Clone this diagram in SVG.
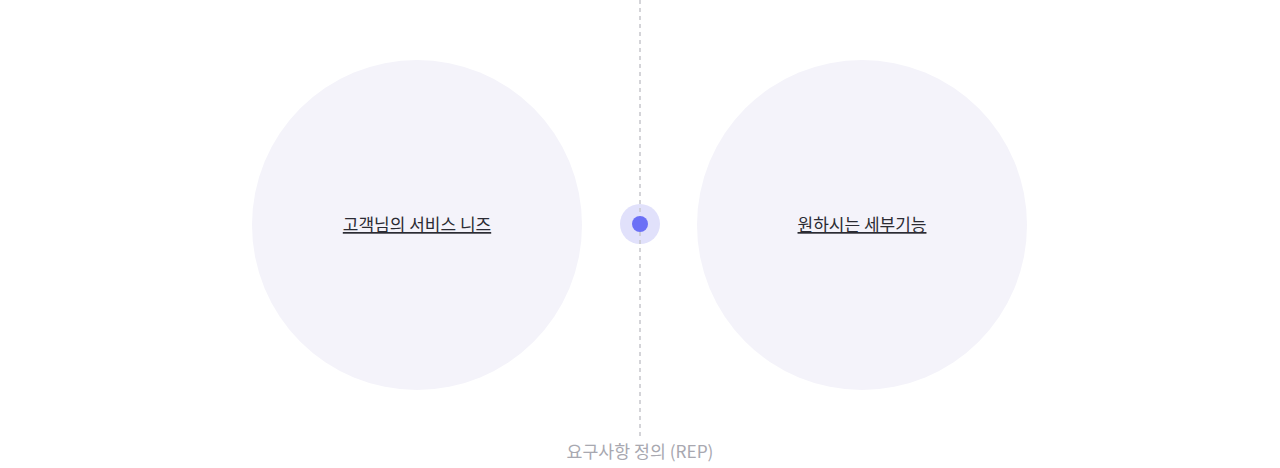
<svg xmlns="http://www.w3.org/2000/svg" width="1280" height="468" viewBox="0 0 1280 468">
<style>
.bubble{fill:#f4f3fa}
.lbl{font-family:"Noto Sans CJK KR","Noto Sans",sans-serif;font-size:17px;fill:#2b2b33;text-anchor:middle;text-decoration:underline}
.cap{font-family:"Noto Sans CJK KR","Noto Sans",sans-serif;font-size:17.3px;fill:#a8a8b0;text-anchor:middle}
</style>
<rect width="1280" height="468" fill="#ffffff"/>
<g id="node-needs">
<circle class="bubble" cx="417" cy="225" r="165"/>
<text class="lbl" x="417" y="231">고객님의 서비스 니즈</text>
</g>
<g id="node-features">
<circle class="bubble" cx="862" cy="225" r="165"/>
<text class="lbl" x="862" y="231">원하시는 세부기능</text>
</g>
<g id="node-center-halo">
<circle cx="640" cy="224" r="20" fill="#e1e1fb"/>
</g>
<g id="connectors">
<line x1="640" y1="0" x2="640" y2="438" stroke="#c6c6cc" stroke-width="1.5" stroke-dasharray="4 4"/>
</g>
<g id="node-center">
<circle cx="640" cy="224" r="8" fill="#6b70f6"/>
</g>
<g id="caption">
<text class="cap" x="640" y="458">요구사항 정의 (REP)</text>
</g>
</svg>
